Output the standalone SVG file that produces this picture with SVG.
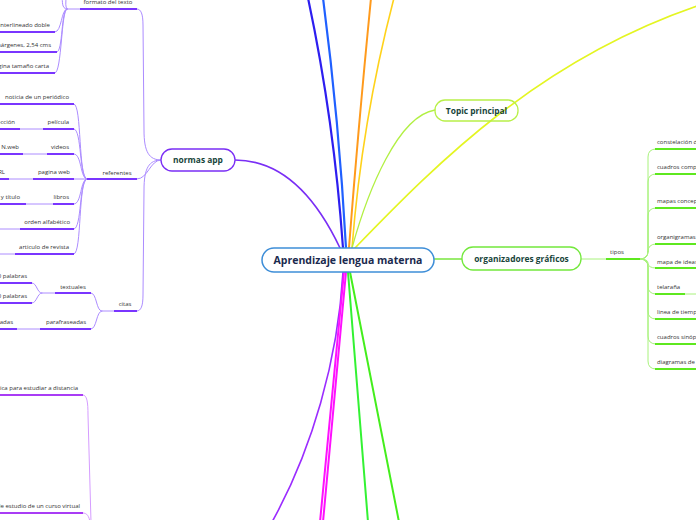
<svg xmlns="http://www.w3.org/2000/svg" width="696" height="520" viewBox="0 0 696 520">
<style>
.t{font-family:"Open Sans","Noto Sans",sans-serif;font-size:6px;fill:#333}
.e{text-anchor:end}
.nl{font-family:"Open Sans","Noto Sans",sans-serif;font-weight:bold;fill:#17443a;text-anchor:middle}
.c{fill:none}
.lp{stroke:#ac8cff;stroke-width:1;fill:none}
.dp{stroke:#7a35ff;stroke-width:2;fill:none}
.lv{stroke:#d59cff;stroke-width:1;fill:none}
.dv{stroke:#a93cf5;stroke-width:2;fill:none}
.lg{stroke:#a8f27c;stroke-width:1;fill:none}
.dg{stroke:#5ee81f;stroke-width:2;fill:none}
</style>
<rect width="696" height="520" fill="#fff"/>

<g id="connectors" class="c" stroke-linecap="round">
  <path d="M343,248 Q334,120 308,-2" stroke="#2d1ef0" stroke-width="2.2"/>
  <path d="M346,248 Q339,120 323,-2" stroke="#2060ff" stroke-width="2.2"/>
  <path d="M349,248 Q358,130 371,-2" stroke="#ff9a1c" stroke-width="2"/>
  <path d="M352,248 Q362,120 394,-2" stroke="#ffd21a" stroke-width="1.6"/>
  <path d="M352,248 C368,190 398,116 435,110" stroke="#b2f043" stroke-width="1.3"/>
  <path d="M355,248 C440,160 540,60 697,6" stroke="#e4f522" stroke-width="1.6"/>
  <path d="M340,248 C322,210 290,160 235,160" stroke="#7a2ef5" stroke-width="1.6"/>
  <path d="M434,259 L462,259" stroke="#9aec6e" stroke-width="2"/>
  <path d="M343,272 C338,360 312,450 272,522" stroke="#9b2cff" stroke-width="1.6"/>
  <path d="M344,272 L320,522" stroke="#ff10ff" stroke-width="2"/>
  <path d="M346,272 L323,522" stroke="#ff10ff" stroke-width="2"/>
  <path d="M348,272 L368,522" stroke="#33f233" stroke-width="2"/>
  <path d="M350,272 L399,522" stroke="#44ee1c" stroke-width="2"/>

  <!-- normas app subtree -->
  <path class="lp" d="M161,160 C149,160 144,152 144,130 L143,25 C143,14 141,9 137,9"/>
  <path class="lp" d="M161,160 C150,160 148,179 137,179"/>
  <path class="lp" d="M161,160 C149,160 144,168 144,190 L143,295 C143,306 141,311 137,311"/>
  <!-- formato children -->
  <path class="lp" d="M67,9 C61,9 63,0 62,-2"/>
  <path class="lp" d="M67,9 C65,7 66,2 66,-2"/>
  <path class="lp" d="M67,9 C61,9 62,32 55,32"/>
  <path class="lp" d="M67,9 C61,9 63,52 57,52"/>
  <path class="lp" d="M67,9 C61,9 62,73 55,73"/>
  <path class="lp" d="M67,9 L80,9"/>
  <!-- referentes children -->
  <path class="lp" d="M87,179 C78,179 82,104 74,104"/>
  <path class="lp" d="M87,179 C79,179 82,129 74,129"/>
  <path class="lp" d="M87,179 C80,179 82,154 74,154"/>
  <path class="lp" d="M87,179 L74,179"/>
  <path class="lp" d="M87,179 C80,179 82,204 74,204"/>
  <path class="lp" d="M87,179 C79,179 82,229 74,229"/>
  <path class="lp" d="M87,179 C78,179 82,254 74,254"/>
  <path class="lp" d="M20,129 L43,129"/>
  <path class="lp" d="M23,154 L47,154"/>
  <path class="lp" d="M9,179 L33,179"/>
  <path class="lp" d="M26,204 L53,204"/>
  <path class="lp" d="M0,229 L20,229"/>
  <path class="lp" d="M0,254 L15,254"/>
  <!-- citas children -->
  <path class="lp" d="M114,311 L102,311 C96,311 97,293 91,293"/>
  <path class="lp" d="M102,311 C96,311 97,329 91,329"/>
  <path class="lp" d="M55,293 L42,293 C37,293 37,283 32,283"/>
  <path class="lp" d="M42,293 C37,293 37,303 32,303"/>
  <path class="lp" d="M17,329 L40,329"/>
  <!-- bottom-left -->
  <path class="lv" d="M83,395 C87,395 88,402 88,415 L91,522"/>
  <path class="lv" d="M83,513 C87,513 89,516 90,522"/>
  <!-- tipos -->
  <path class="lg" d="M581,259 L606,259"/>
  <path class="lg" d="M640,259 Q648,259 648,251 L648,157 Q648,149 656,149"/>
  <path class="lg" d="M640,259 Q648,259 648,251 L648,182 Q648,174 656,174"/>
  <path class="lg" d="M640,259 Q648,259 648,251 L648,216 Q648,208 656,208"/>
  <path class="lg" d="M640,259 Q648,259 648,251 L648,252 Q648,244 656,244"/>
  <path class="lg" d="M640,259 Q648,259 648,263 Q648,268 656,268"/>
  <path class="lg" d="M640,259 Q648,259 648,267 L648,286 Q648,294 656,294"/>
  <path class="lg" d="M640,259 Q648,259 648,267 L648,311 Q648,319 656,319"/>
  <path class="lg" d="M640,259 Q648,259 648,267 L648,336 Q648,344 656,344"/>
  <path class="lg" d="M640,259 Q648,259 648,267 L648,361 Q648,369 656,369"/>
  <path class="lg" d="M685,294 L697,294"/>
</g>

<g id="center">
  <rect x="262" y="248" width="172" height="24" rx="12" fill="#fff" stroke="#3e8ed8" stroke-width="1.5"/>
  <text x="348" y="264" class="nl" style="font-size:10.5px;fill:#1b2a4e">Aprendizaje lengua materna</text>
</g>

<g id="topic-principal">
  <rect x="435" y="100" width="83" height="21" rx="10" fill="none" stroke="#b8f048" stroke-width="1.3"/>
  <text x="476.5" y="113.5" class="nl" style="font-size:8.4px">Topic principal</text>
</g>

<g id="organizadores">
  <rect x="462" y="247" width="119" height="23" rx="11" fill="#fff" stroke="#73e83c" stroke-width="1.3"/>
  <text x="521.5" y="261.5" class="nl" style="font-size:8.4px">organizadores gráficos</text>
</g>

<g id="normas-app">
  <rect x="161" y="149" width="74" height="22" rx="11" fill="#fff" stroke="#7a2ef5" stroke-width="1.3"/>
  <text x="198" y="163" class="nl" style="font-size:8.4px">normas app</text>
</g>

<g id="formato-del-texto">
  <path class="dp" d="M80,9 L137,9"/>
  <text x="108" y="4" class="t" text-anchor="middle">formato del texto</text>
</g>
<g id="interlineado"><path class="dp" d="M-2,32 L55,32"/><text x="50" y="27" class="t e">interlineado doble</text></g>
<g id="margenes"><path class="dp" d="M-2,52 L57,52"/><text x="51" y="47" class="t e">márgenes, 2,54 cms</text></g>
<g id="pagina"><path class="dp" d="M-2,73 L55,73"/><text x="49" y="68" class="t e">página tamaño carta</text></g>

<g id="referentes"><path class="dp" d="M87,179 L137,179"/><text x="117" y="175" class="t" text-anchor="middle">referentes</text></g>
<g id="noticia"><path class="dp" d="M-2,104 L74,104"/><text x="69" y="99" class="t e">noticia de un periódico</text></g>
<g id="pelicula"><path class="dp" d="M43,129 L74,129"/><text x="69" y="124" class="t e">película</text></g>
<g id="pelicula-c"><path class="dp" d="M-2,129 L20,129"/><text x="15" y="124" class="t e">dirección</text></g>
<g id="videos"><path class="dp" d="M47,154 L74,154"/><text x="69" y="149" class="t e">videos</text></g>
<g id="videos-c"><path class="dp" d="M-2,154 L23,154"/><text x="19" y="149" class="t e">N.web</text></g>
<g id="paginaweb"><path class="dp" d="M33,179 L74,179"/><text x="70" y="174" class="t e">pagina web</text></g>
<g id="paginaweb-c"><path class="dp" d="M-2,179 L9,179"/><text x="5" y="174" class="t e">URL</text></g>
<g id="libros"><path class="dp" d="M53,204 L74,204"/><text x="69" y="199" class="t e">libros</text></g>
<g id="libros-c"><path class="dp" d="M-2,204 L26,204"/><text x="20" y="199" class="t e">autor y título</text></g>
<g id="orden"><path class="dp" d="M20,229 L74,229"/><text x="70" y="224" class="t e">orden alfabético</text></g>
<g id="articulo"><path class="dp" d="M15,254 L74,254"/><text x="69" y="249" class="t e">articulo de revista</text></g>

<g id="citas"><path class="dp" d="M114,311 L137,311"/><text x="125" y="306" class="t" text-anchor="middle">citas</text></g>
<g id="textuales"><path class="dp" d="M55,293 L91,293"/><text x="73" y="289" class="t" text-anchor="middle">textuales</text></g>
<g id="menos40"><path class="dp" d="M-2,283 L32,283"/><text x="27" y="278" class="t e">menos de 40 palabras</text></g>
<g id="mas40"><path class="dp" d="M-2,303 L32,303"/><text x="27" y="298" class="t e">más de 40 palabras</text></g>
<g id="parafraseadas"><path class="dp" d="M40,329 L91,329"/><text x="86" y="324" class="t e">parafraseadas</text></g>
<g id="parafraseadas-c"><path class="dp" d="M-2,329 L17,329"/><text x="13" y="324" class="t e">comentadas</text></g>

<g id="guia-distancia"><path class="dv" d="M-2,395 L83,395"/><text x="78" y="390" class="t e">guía práctica para estudiar a distancia</text></g>
<g id="guia-virtual"><path class="dv" d="M-2,513 L83,513"/><text x="80" y="508" class="t e">guía de estudio de un curso virtual</text></g>

<g id="tipos"><path class="dg" d="M606,259 L640,259"/><text x="617" y="254" class="t" text-anchor="middle">tipos</text></g>
<g id="constelacion"><path class="dg" d="M655,149 L698,149"/><text x="657" y="144" class="t">constelación de ideas</text></g>
<g id="comparativos"><path class="dg" d="M655,174 L698,174"/><text x="657" y="169" class="t">cuadros comparativos</text></g>
<g id="mapas-conceptuales"><path class="dg" d="M655,208 L698,208"/><text x="657" y="203" class="t">mapas conceptuales</text></g>
<g id="organigramas"><path class="dg" d="M655,244 L698,244"/><text x="657" y="239" class="t">organigramas</text></g>
<g id="mapa-ideas"><path class="dg" d="M655,268 L698,268"/><text x="657" y="264" class="t">mapa de ideas</text></g>
<g id="telarana"><path class="dg" d="M655,294 L685,294"/><text x="657" y="289" class="t">telaraña</text></g>
<g id="linea-tiempo"><path class="dg" d="M655,319 L698,319"/><text x="657" y="314" class="t">linea de tiempo</text></g>
<g id="sinopticos"><path class="dg" d="M655,344 L698,344"/><text x="657" y="339" class="t">cuadros sinópticos</text></g>
<g id="diagramas"><path class="dg" d="M655,369 L698,369"/><text x="657" y="364" class="t">diagramas de flujo</text></g>
</svg>
